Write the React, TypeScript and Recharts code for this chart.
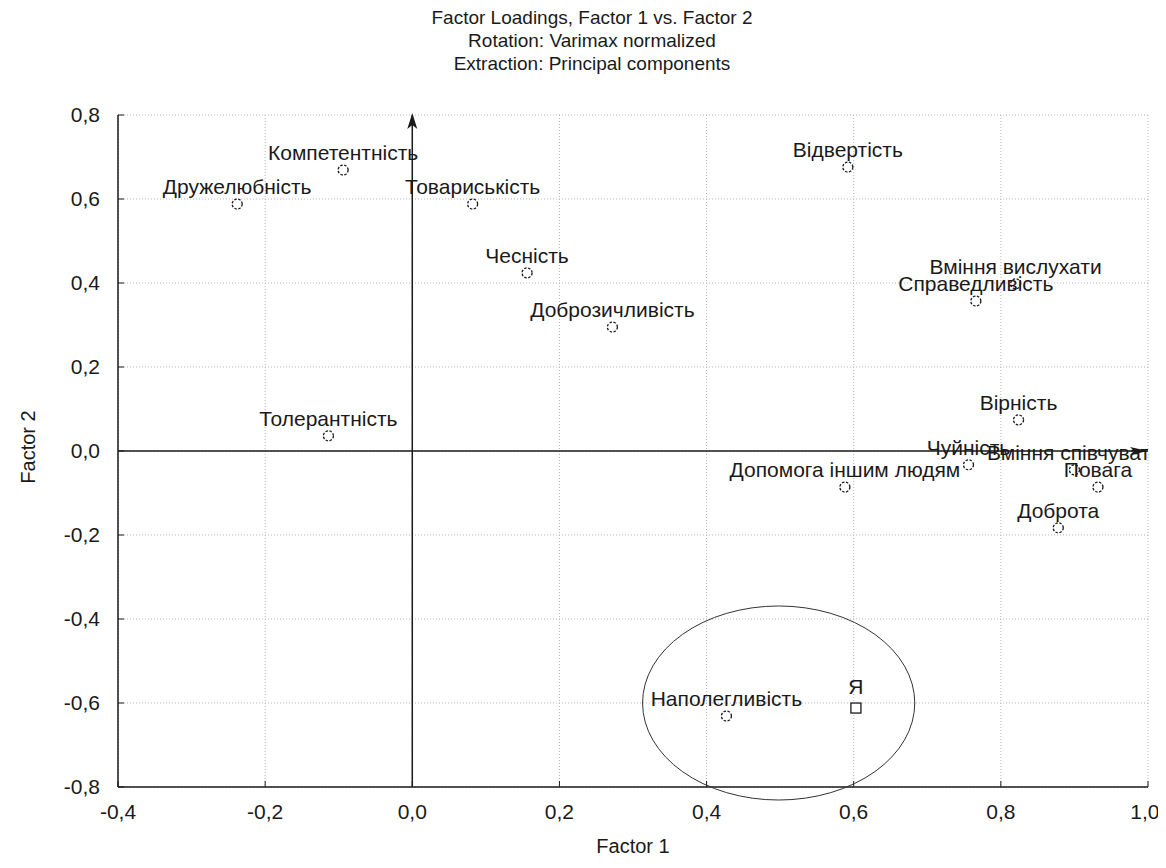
import React from "react";
import {
  CartesianGrid,
  ReferenceDot,
  ReferenceLine,
  Scatter,
  ScatterChart,
  XAxis,
  YAxis,
} from "recharts";

// factor loadings
const names = [
  "Дружелюбність",
  "Компетентність",
  "Товариськість",
  "Чесність",
  "Доброзичливість",
  "Відвертість",
  "Вміння вислухати",
  "Справедливість",
  "Вірність",
  "Толерантність",
  "Чуйність",
  "Вміння співчувати",
  "Повага",
  "Допомога іншим людям",
  "Доброта",
  "Наполегливість",
];
const factor1 = [
  -0.238, -0.094, 0.082, 0.156, 0.272, 0.592, 0.82, 0.766, 0.824, -0.114,
  0.756, 0.9, 0.932, 0.588, 0.878, 0.427,
];
const factor2 = [
  0.588, 0.669, 0.588, 0.424, 0.295, 0.676, 0.398, 0.357, 0.074, 0.036,
  -0.033, -0.045, -0.086, -0.086, -0.183, -0.631,
];

const selfName = ["Я"];
const selfF1 = [0.603];
const selfF2 = [-0.612];

const xTicks = [-0.4, -0.2, 0, 0.2, 0.4, 0.6, 0.8, 1.0];
const yTicks = [-0.8, -0.6, -0.4, -0.2, 0, 0.2, 0.4, 0.6, 0.8];

// ellipse around the "Я" group (data units)
const ellipseCenter = { x: 0.498, y: -0.6 };
const ellipseRadius = { x: 0.185, y: 0.231 };

const W = 1150;
const H = 850;
const M = { top: 107, right: 10, left: 0, bottom: 0 };
const Y_W = 110;
const X_H = 71;
const PLOT = { x: Y_W, y: M.top, w: W - Y_W - M.right, h: H - M.top - X_H };

const FONT = "'Liberation Sans', Arial, sans-serif";
const INK = "#1a1a1a";

const fmt = (v: number) => v.toFixed(1).replace(".", ",");

const data = names.map((name, i) => ({ name, x: factor1[i], y: factor2[i] }));
const selfData = selfName.map((name, i) => ({
  name,
  x: selfF1[i],
  y: selfF2[i],
}));

const PointShape = (props: any) => {
  const { cx, cy, payload } = props;
  return (
    <g>
      <circle
        cx={cx}
        cy={cy}
        r={5}
        fill="#fff"
        stroke={INK}
        strokeWidth={1.3}
        strokeDasharray="2.5 1.5"
      />
      <g clipPath="url(#plotClip)">
        <text
          x={cx}
          y={cy - 10}
          textAnchor="middle"
          fontSize={21}
          fontFamily={FONT}
          fill={INK}
        >
          {payload.name}
        </text>
      </g>
    </g>
  );
};

const SquareShape = (props: any) => {
  const { cx, cy, payload } = props;
  return (
    <g>
      <rect
        x={cx - 5}
        y={cy - 5}
        width={10}
        height={10}
        fill="#fff"
        stroke={INK}
        strokeWidth={1.3}
      />
      <text
        x={cx}
        y={cy - 14}
        textAnchor="middle"
        fontSize={21}
        fontFamily={FONT}
        fill={INK}
      >
        {payload.name}
      </text>
    </g>
  );
};

const EllipseShape = (props: any) => {
  const { cx, cy } = props;
  const rx = (ellipseRadius.x * PLOT.w) / (xTicks[xTicks.length - 1] - xTicks[0]);
  const ry = (ellipseRadius.y * PLOT.h) / (yTicks[yTicks.length - 1] - yTicks[0]);
  return (
    <g>
      <defs>
        <clipPath id="plotClip">
          <rect x={PLOT.x} y={PLOT.y} width={PLOT.w} height={PLOT.h} />
        </clipPath>
      </defs>
      <ellipse cx={cx} cy={cy} rx={rx} ry={ry} fill="none" stroke="#333" strokeWidth={1} />
    </g>
  );
};

const HArrow = (props: any) => {
  const { x1, y1, x2 } = props;
  const xe = Math.max(x1, x2);
  const xs = Math.min(x1, x2);
  return (
    <g>
      <line x1={xs} y1={y1} x2={xe} y2={y1} stroke={INK} strokeWidth={1.5} />
      <polygon
        points={`${xe},${y1} ${xe - 18},${y1 - 4} ${xe - 14},${y1} ${xe - 18},${y1 + 4}`}
        fill={INK}
      />
    </g>
  );
};

const VArrow = (props: any) => {
  const { x1, y1, y2 } = props;
  const ys = Math.min(y1, y2);
  const ye = Math.max(y1, y2);
  return (
    <g>
      <line x1={x1} y1={ye} x2={x1} y2={ys} stroke={INK} strokeWidth={1.5} />
      <polygon
        points={`${x1},${ys - 2} ${x1 - 5},${ys + 14} ${x1},${ys + 10} ${x1 + 5},${ys + 14}`}
        fill={INK}
      />
    </g>
  );
};

const tickStyle = { fontSize: 21, fontFamily: FONT, fill: INK };

export default function App() {
  return (
    <div style={{ position: "relative", width: W, height: H, fontFamily: FONT, color: INK }}>
      <div style={{ position: "absolute", left: 0, width: 1168, top: -2, textAlign: "center", fontSize: 19, lineHeight: "23px" }}>
        <div>Factor Loadings, Factor 1 vs. Factor 2</div>
        <div>Rotation: Varimax normalized</div>
        <div>Extraction: Principal components</div>
      </div>
      <div style={{ position: "absolute", left: 575, width: 100, top: 828, textAlign: "center", fontSize: 20, lineHeight: "20px" }}>
        Factor 1
      </div>
      <div
        style={{
          position: "absolute",
          left: -30,
          top: 429,
          width: 100,
          textAlign: "center",
          fontSize: 20,
          lineHeight: "20px",
          transform: "rotate(-90deg)",
        }}
      >
        Factor 2
      </div>
      <ScatterChart width={W} height={H} margin={M} style={{ position: "absolute", left: 0, top: 0 }}>
        <CartesianGrid stroke="#b5b5b5" strokeDasharray="1 2" />
        <XAxis
          type="number"
          dataKey="x"
          domain={[-0.4, 1.0]}
          ticks={xTicks}
          allowDataOverflow
          height={X_H}
          tickFormatter={fmt}
          tick={tickStyle}
          tickSize={-6}
          tickMargin={23}
          axisLine={{ stroke: INK, strokeWidth: 1.5 }}
          tickLine={{ stroke: INK }}
        />
        <XAxis
          xAxisId="top"
          orientation="top"
          type="number"
          dataKey="x"
          domain={[-0.4, 1.0]}
          ticks={xTicks}
          allowDataOverflow
          height={0}
          tickFormatter={() => ""}
          tickSize={-6}
          axisLine={{ stroke: INK, strokeWidth: 1.5 }}
          tickLine={{ stroke: INK }}
        />
        <YAxis
          type="number"
          dataKey="y"
          domain={[-0.8, 0.8]}
          ticks={yTicks}
          allowDataOverflow
          width={Y_W}
          tickFormatter={fmt}
          tick={tickStyle}
          tickSize={-6}
          tickMargin={24}
          axisLine={{ stroke: INK, strokeWidth: 1.5 }}
          tickLine={{ stroke: INK }}
        />
        <YAxis
          yAxisId="right"
          orientation="right"
          type="number"
          dataKey="y"
          domain={[-0.8, 0.8]}
          ticks={yTicks}
          allowDataOverflow
          width={0}
          tickFormatter={() => ""}
          tickSize={-6}
          axisLine={{ stroke: INK, strokeWidth: 1.5 }}
          tickLine={{ stroke: INK }}
        />
        <ReferenceDot
          x={ellipseCenter.x}
          y={ellipseCenter.y}
          ifOverflow="visible"
          shape={EllipseShape}
        />
        <ReferenceLine y={0} shape={HArrow} />
        <ReferenceLine x={0} shape={VArrow} />
        <Scatter data={data} shape={PointShape} isAnimationActive={false} />
        <Scatter data={selfData} shape={SquareShape} isAnimationActive={false} />
      </ScatterChart>
    </div>
  );
}
